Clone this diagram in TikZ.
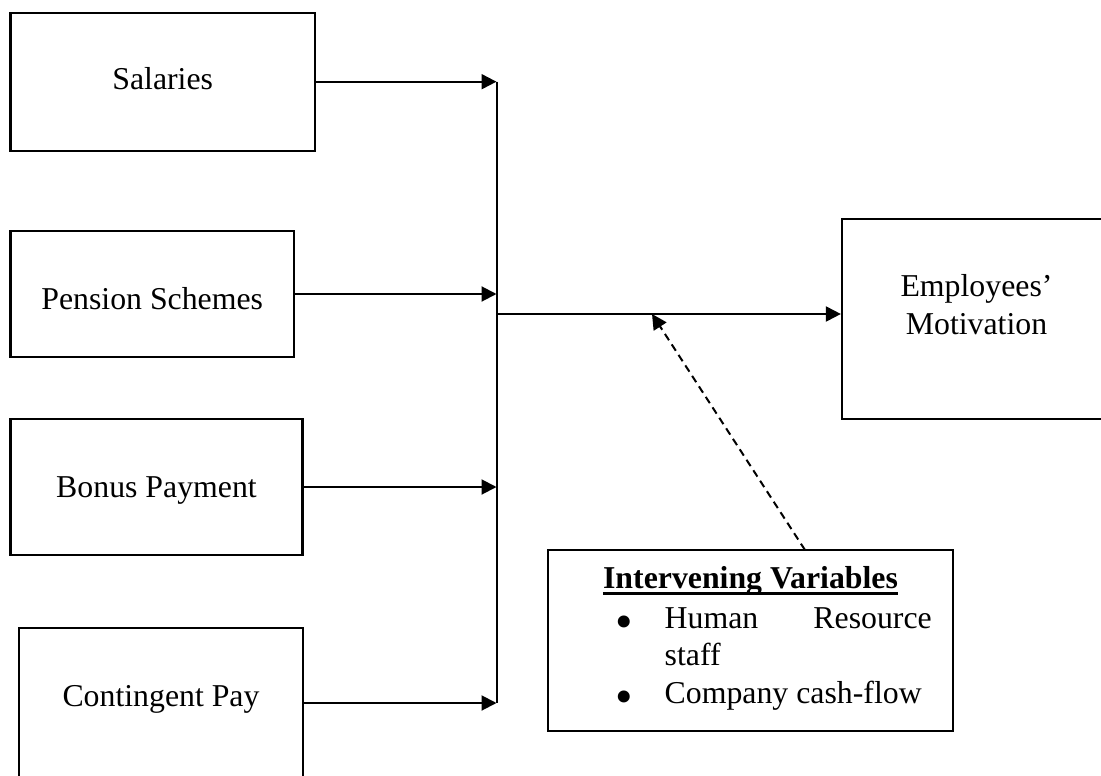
\documentclass[tikz,border=0pt]{standalone}
\usepackage{fontspec}
\setmainfont{Liberation Serif}
\usetikzlibrary{arrows.meta}
\begin{document}
\begin{tikzpicture}[x=1pt,y=-1pt,
  box/.style={draw, line width=2.2pt, inner sep=0pt, rectangle},
  txt/.style={inner sep=0pt, anchor=base, font=\fontsize{31.8}{37.5}\selectfont},
  bul/.style={inner sep=0pt, anchor=base, font=\fontsize{50}{50}\selectfont},
  arr/.style={line width=2pt, -{Triangle[length=15pt,width=15pt]}},
  dasharr/.style={arr, dash pattern=on 7.5pt off 5pt}
]
\useasboundingbox (0,0) rectangle (1101,776);
\clip (0,0) rectangle (1101,776);

% left boxes
\node[box, minimum width=304.5pt, minimum height=138pt] (sal) at (162.75,81.7) {};
\node[box, minimum width=283.5pt, minimum height=126pt] (pen) at (152.25,294) {};
\node[box, minimum width=292pt, minimum height=136pt] (bon) at (156.5,487) {};
\node[box, minimum width=283.7pt, minimum height=150pt] (con) at (160.85,703) {};

\node[txt] (saltxt) at (162.7,89) {Salaries};
\node[txt] (pentxt) at (152.2,309) {Pension Schemes};
\node[txt] (bontxt) at (156.5,497) {Bonus Payment};
\node[txt] (contxt) at (161,706) {Contingent Pay};

% right box
\node[box, minimum width=270pt, minimum height=200pt] (emp) at (977,319) {};
\node[txt] (emptxt1) at (976.5,296) {Employees’};
\node[txt] (emptxt2) at (976.5,334) {Motivation};

% intervening box
\node[box, minimum width=405pt, minimum height=181pt] (iv) at (750.5,640.5) {};
\node[txt, font=\fontsize{31.8}{37.5}\selectfont\bfseries] (ttl) at (750.5,588) {Intervening Variables};
\draw[line width=2.4pt] ([yshift=-5.3pt]ttl.base west) -- ([yshift=-5.3pt]ttl.base east);
\node[bul] (b1) at (624,638) {•};
\node[txt, anchor=base west] (h1) at (664.5,628) {Human};
\node[txt, anchor=base east] (h2) at (932,628) {Resource};
\node[txt, anchor=base west] (h3) at (664.5,665.5) {staff};
\node[bul] (b2) at (624,713) {•};
\node[txt, anchor=base west] (c1) at (664.5,703) {Company cash-flow};

% connectors
\coordinate (busx) at (496.5,0);
\coordinate (m) at (496.5,314);
\coordinate (dtip) at (652,314);
\coordinate (dstart) at (805,550);

\draw[arr] (sal.east) -- (sal.east -| busx);
\draw[arr] (pen.east) -- (pen.east -| busx);
\draw[arr] (bon.east) -- (bon.east -| busx);
\draw[arr] (con.east) -- (con.east -| busx);
\draw[line width=2pt] (sal.east -| busx) -- (con.east -| busx);
\draw[arr] (m) -- (m -| emp.west);
\draw[dasharr] (dstart) -- (dtip);
\end{tikzpicture}
\end{document}
